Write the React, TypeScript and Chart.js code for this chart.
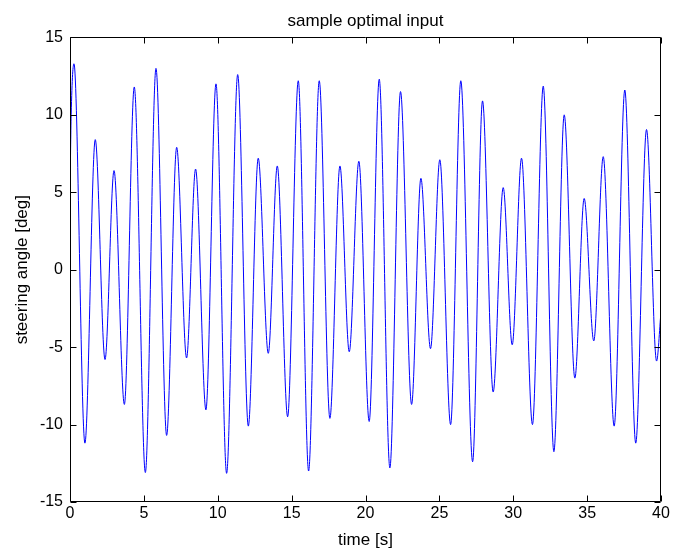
import React, { useEffect, useRef } from "react";
import { Chart, registerables } from "chart.js";

Chart.register(...registerables);

// Extremes (peaks / troughs) of the steering signal
const timeS: number[] = [
  0, 0.08, 0.27, 1.01, 1.71, 2.37, 2.98, 3.68, 4.35, 5.1, 5.82, 6.54, 7.22, 7.89,
  8.5, 9.2, 9.88, 10.6, 11.35, 12.07, 12.74, 13.42, 14.03, 14.73, 15.45, 16.15,
  16.87, 17.59, 18.27, 18.9, 19.55, 20.25, 20.93, 21.65, 22.37, 23.12, 23.75,
  24.4, 25.03, 25.76, 26.45, 27.25, 27.92, 28.64, 29.32, 29.93, 30.56, 31.3,
  32.03, 32.75, 33.45, 34.17, 34.8, 35.45, 36.09, 36.83, 37.55, 38.29, 39.02,
  39.7, 40.0,
];

const steeringDeg: number[] = [
  5.0, 10.0, 13.3, -11.2, 8.4, -5.8, 6.4, -8.7, 11.8, -13.1, 13.0, -10.7, 7.9,
  -5.7, 6.5, -9.05, 12.0, -13.15, 12.6, -10.1, 7.2, -5.4, 6.7, -9.5, 12.2, -13.0,
  12.2, -9.6, 6.7, -5.3, 7.0, -9.8, 12.3, -12.8, 11.5, -8.7, 5.9, -5.1, 7.1,
  -10.0, 12.2, -12.4, 10.9, -7.9, 5.3, -4.85, 7.2, -10.0, 11.85, -11.75, 10.0,
  -7.0, 4.6, -4.6, 7.3, -10.1, 11.6, -11.2, 9.05, -5.9, -2.7,
];

const xMin = 0;
const xMax = 40;
const xStep = 5;
const yMin = -15;
const yMax = 15;
const yStep = 5;

const titleText = "sample optimal input";
const xLabel = "time [s]";
const yLabel = "steering angle [deg]";

const FONT = '"Liberation Sans", Arial, Helvetica, sans-serif';

const framePlugin = {
  id: "matlabFrame",
  afterDatasetsDraw(chart: any) {
    const { ctx, chartArea: a, scales } = chart;
    const L = Math.round(a.left) + 0.5;
    const R = Math.round(a.right) - 0.5;
    const T = Math.round(a.top) + 0.5;
    const B = Math.round(a.bottom) - 0.5;
    const tl = 6;
    ctx.save();
    ctx.strokeStyle = "#000";
    ctx.lineWidth = 1;
    ctx.beginPath();
    ctx.rect(L, T, R - L, B - T);
    scales.x.ticks.forEach((tk: any) => {
      const px = Math.round(scales.x.getPixelForValue(tk.value)) + 0.5;
      ctx.moveTo(px, B);
      ctx.lineTo(px, B - tl);
      ctx.moveTo(px, T);
      ctx.lineTo(px, T + tl);
    });
    scales.y.ticks.forEach((tk: any) => {
      const py = Math.round(scales.y.getPixelForValue(tk.value)) + 0.5;
      ctx.moveTo(L, py);
      ctx.lineTo(L + tl, py);
      ctx.moveTo(R, py);
      ctx.lineTo(R - tl, py);
    });
    ctx.stroke();
    ctx.restore();
  },
};

export default function App() {
  const ref = useRef<HTMLCanvasElement | null>(null);

  useEffect(() => {
    document.body.style.margin = "0";
    const canvas = ref.current;
    if (!canvas) return;
    const chart = new Chart(canvas, {
      type: "line",
      data: {
        datasets: [
          {
            data: timeS.map((t, i) => ({ x: t, y: steeringDeg[i] })),
            borderColor: "#0000ff",
            borderWidth: 1,
            pointRadius: 0,
            fill: false,
            cubicInterpolationMode: "monotone",
          },
        ],
      },
      options: {
        animation: false,
        responsive: false,
        maintainAspectRatio: false,
        events: [],
        layout: { padding: { left: 0, right: 14, top: 0, bottom: 0 } },
        plugins: {
          legend: { display: false },
          tooltip: { enabled: false },
          title: {
            display: true,
            text: titleText,
            color: "#000",
            fullSize: false,
            font: { family: FONT, size: 17, weight: "normal" },
            padding: { top: 11, bottom: 6 },
          },
        },
        scales: {
          x: {
            type: "linear",
            min: xMin,
            max: xMax,
            ticks: {
              stepSize: xStep,
              color: "#000",
              font: { family: FONT, size: 16 },
              padding: 2,
              maxRotation: 0,
              autoSkip: false,
            },
            grid: { display: false, drawTicks: false },
            border: { display: false },
            title: {
              display: true,
              text: xLabel,
              color: "#000",
              font: { family: FONT, size: 17 },
              padding: { top: 0, bottom: 7 },
            },
            afterFit: (s: any) => {
              s.height = 56;
            },
          },
          y: {
            type: "linear",
            min: yMin,
            max: yMax,
            ticks: {
              stepSize: yStep,
              color: "#000",
              font: { family: FONT, size: 16 },
              padding: 7,
              autoSkip: false,
            },
            grid: { display: false, drawTicks: false },
            border: { display: false },
            title: {
              display: true,
              text: yLabel,
              color: "#000",
              font: { family: FONT, size: 17 },
              padding: { top: 12, bottom: 0 },
            },
            afterFit: (s: any) => {
              s.width = 70;
            },
          },
        },
      },
      plugins: [framePlugin],
    } as any);
    return () => chart.destroy();
  }, []);

  return (
    <div style={{ width: 675, height: 558, background: "#fff" }}>
      <canvas ref={ref} width={675} height={558} style={{ display: "block" }} />
    </div>
  );
}
